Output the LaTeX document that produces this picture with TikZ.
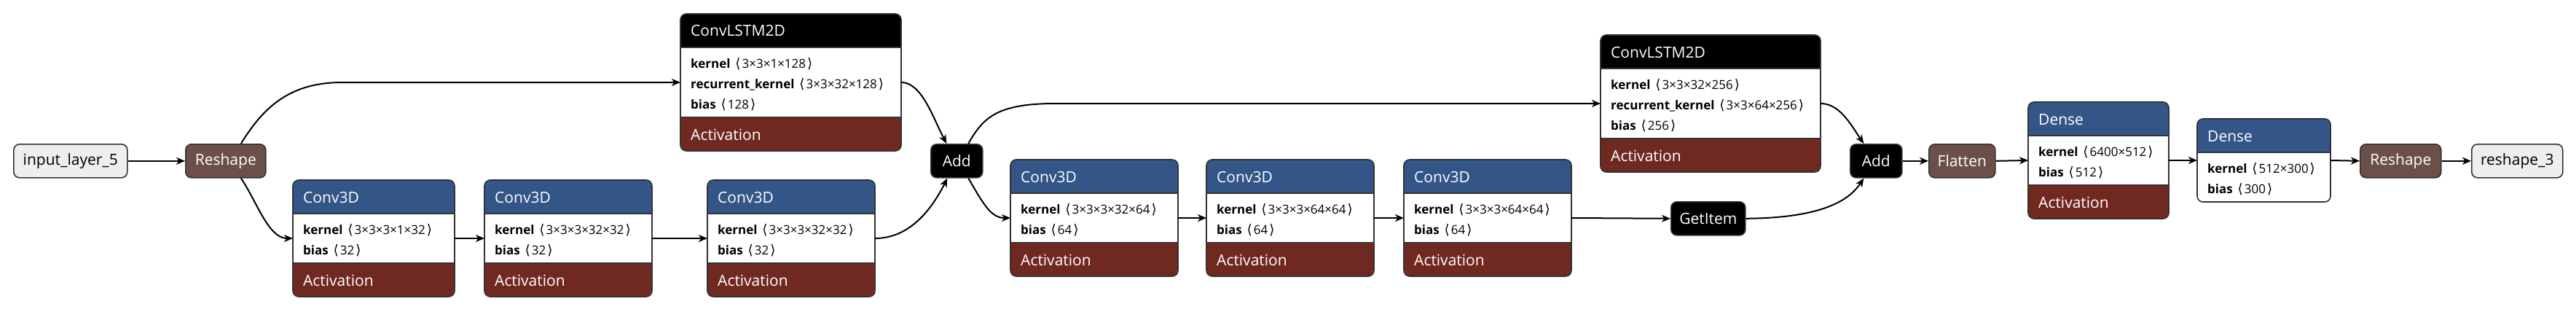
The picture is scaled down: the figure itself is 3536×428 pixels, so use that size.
\documentclass[tikz,border=0pt]{standalone}
\usepackage{fontspec}
\setmainfont{Open Sans}
\newfontfamily\symfnt{DejaVu Sans}
\usetikzlibrary{arrows.meta,calc}
\definecolor{layerblue}{RGB}{51,85,136}
\definecolor{actred}{RGB}{112,41,33}
\definecolor{shapebrown}{RGB}{108,79,71}
\definecolor{frame}{RGB}{51,51,51}
\definecolor{iofill}{RGB}{238,238,238}
\tikzset{
  frm/.style={draw=frame, line width=1.6pt, rounded corners=8pt},
  small/.style={frm, minimum height=46pt, inner sep=0pt, font=\fontsize{21}{25}\selectfont, anchor=north west},
  io/.style={small, fill=iofill, text=black},
  shp/.style={small, fill=shapebrown, text=white},
  blk/.style={small, fill=black, text=white},
  ttl/.style={anchor=base west, inner sep=0pt, text=white, font=\fontsize{21}{25}\selectfont},
  attr/.style={anchor=base west, inner sep=0pt, text=black, font=\fontsize{17}{20}\selectfont},
  sep/.style={draw=frame, line width=1.6pt},
  edge/.style={draw=black, line width=2pt, -{Stealth[length=12pt,width=10pt,inset=3.5pt]}},
}
\newcommand\kv[2]{\textbf{#1}\hspace{0.4em}{\symfnt\fontsize{18.5}{20}\selectfont ⟨}\hspace{0.12em}#2\hspace{0.12em}{\symfnt\fontsize{18.5}{20}\selectfont ⟩}}
% #1 name, #2 left, #3 top, #4 width, #5 body height, #6 title, #7 header colour, #8 attribute lines, #9 activation (0/1)
\newcommand\LayerNode[9]{%
  \pgfmathsetmacro\LH{46+#5+46*#9}%
  \node[draw=none, minimum width=#4pt, minimum height=\LH pt, inner sep=0pt, outer sep=0pt, anchor=north west] (#1) at (#2,#3) {};
  \begin{scope}
    \clip[rounded corners=8pt] (#1.north west) rectangle (#1.south east);
    \fill[#7] (#1.north west) rectangle ($(#1.north east)+(0,46)$);
    \fill[white] ($(#1.north west)+(0,46)$) rectangle ($(#1.north east)+(0,46+#5)$);
    \ifnum#9=1 \fill[actred] ($(#1.north west)+(0,46+#5)$) rectangle (#1.south east);\fi
  \end{scope}
  \draw[sep] ($(#1.north west)+(0,46)$) -- ($(#1.north east)+(0,46)$);
  \ifnum#9=1 \draw[sep] ($(#1.north west)+(0,46+#5)$) -- ($(#1.north east)+(0,46+#5)$);\fi
  \draw[frm] (#1.north west) rectangle (#1.south east);
  \node[ttl] at ($(#1.north west)+(14,31)$) {#6};
  \foreach \ln [count=\k] in {#8} {\node[attr] at ($(#1.north west)+(14,46+28*\k)$) {\ln};}
  \ifnum#9=1 \node[ttl] at ($(#1.north west)+(14,46+#5+31)$) {Activation};\fi
}
\begin{document}
\begin{tikzpicture}[x=1pt,y=-1pt]
\useasboundingbox (0,0) rectangle (3536,428);
% small nodes
\node[io, minimum width=156pt] (in) at (18,197) {input\_layer\_5};
\node[shp, minimum width=110pt] (rs1) at (254,197) {Reshape};
\node[blk, minimum width=71pt] (add1) at (1277,197) {Add};
\node[blk, minimum width=102pt] (gi) at (2293,276) {GetItem};
\node[blk, minimum width=71pt] (add2) at (2539,197) {Add};
\node[shp, minimum width=91pt] (flat) at (2647,197) {Flatten};
\node[shp, minimum width=111pt] (rs2) at (3239,197) {Reshape};
\node[io, minimum width=125pt] (out) at (3392,197) {reshape\_3};
% layers
\LayerNode{lstm1}{934}{19}{303}{96}{ConvLSTM2D}{black}{{\kv{kernel}{3×3×1×128}},{\kv{recurrent\_kernel}{3×3×32×128}},{\kv{bias}{128}}}{1}
\LayerNode{c1}{402}{247}{222}{68}{Conv3D}{layerblue}{{\kv{kernel}{3×3×3×1×32}},{\kv{bias}{32}}}{1}
\LayerNode{c2}{665}{247}{230}{68}{Conv3D}{layerblue}{{\kv{kernel}{3×3×3×32×32}},{\kv{bias}{32}}}{1}
\LayerNode{c3}{971}{247}{230}{68}{Conv3D}{layerblue}{{\kv{kernel}{3×3×3×32×32}},{\kv{bias}{32}}}{1}
\LayerNode{c4}{1387}{219}{230}{68}{Conv3D}{layerblue}{{\kv{kernel}{3×3×3×32×64}},{\kv{bias}{64}}}{1}
\LayerNode{c5}{1656}{219}{230}{68}{Conv3D}{layerblue}{{\kv{kernel}{3×3×3×64×64}},{\kv{bias}{64}}}{1}
\LayerNode{c6}{1927}{219}{230}{68}{Conv3D}{layerblue}{{\kv{kernel}{3×3×3×64×64}},{\kv{bias}{64}}}{1}
\LayerNode{lstm2}{2197}{48}{302}{96}{ConvLSTM2D}{black}{{\kv{kernel}{3×3×32×256}},{\kv{recurrent\_kernel}{3×3×64×256}},{\kv{bias}{256}}}{1}
\LayerNode{d1}{2784}{140}{193}{68}{Dense}{layerblue}{{\kv{kernel}{6400×512}},{\kv{bias}{512}}}{1}
\LayerNode{d2}{3016}{163}{183}{68}{Dense}{layerblue}{{\kv{kernel}{512×300}},{\kv{bias}{300}}}{0}
% edges
\draw[edge] (in.east) -- (rs1.west);
\draw[edge] ($(rs1.north)+(21,0)$) .. controls (360,150) and (395,113) .. (470,113) -- (lstm1.west);
\draw[edge] ($(rs1.south)+(21,0)$) .. controls (352,275) and (368,327) .. (c1.west);
\draw[edge] (c1.east) -- (c2.west);
\draw[edge] (c2.east) -- (c3.west);
\draw[edge] (c3.east) .. controls (1250,327) and (1280,285) .. ($(add1.south)+(-13,0)$);
\draw[edge] (lstm1.east) .. controls (1265,113) and (1280,160) .. ($(add1.north)+(-14,0)$);
\draw[edge] ($(add1.north)+(16,0)$) .. controls (1350,160) and (1370,142) .. (1450,142) -- (lstm2.west);
\draw[edge] ($(add1.south)+(16,0)$) .. controls (1350,280) and (1360,299) .. (c4.west);
\draw[edge] (c4.east) -- (c5.west);
\draw[edge] (c5.east) -- (c6.west);
\draw[edge] (c6.east) -- (gi.west);
\draw[edge] (gi.east) .. controls (2490,299) and (2535,280) .. ($(add2.south)+(-17,0)$);
\draw[edge] (lstm2.east) .. controls (2525,142) and (2540,170) .. ($(add2.north)+(-17,0)$);
\draw[edge] (add2.east) -- (flat.west);
\draw[edge] (flat.east) -- (d1.west);
\draw[edge] (d1.east) -- (d2.west);
\draw[edge] (d2.east) -- (rs2.west);
\draw[edge] (rs2.east) -- (out.west);
\end{tikzpicture}
\end{document}
